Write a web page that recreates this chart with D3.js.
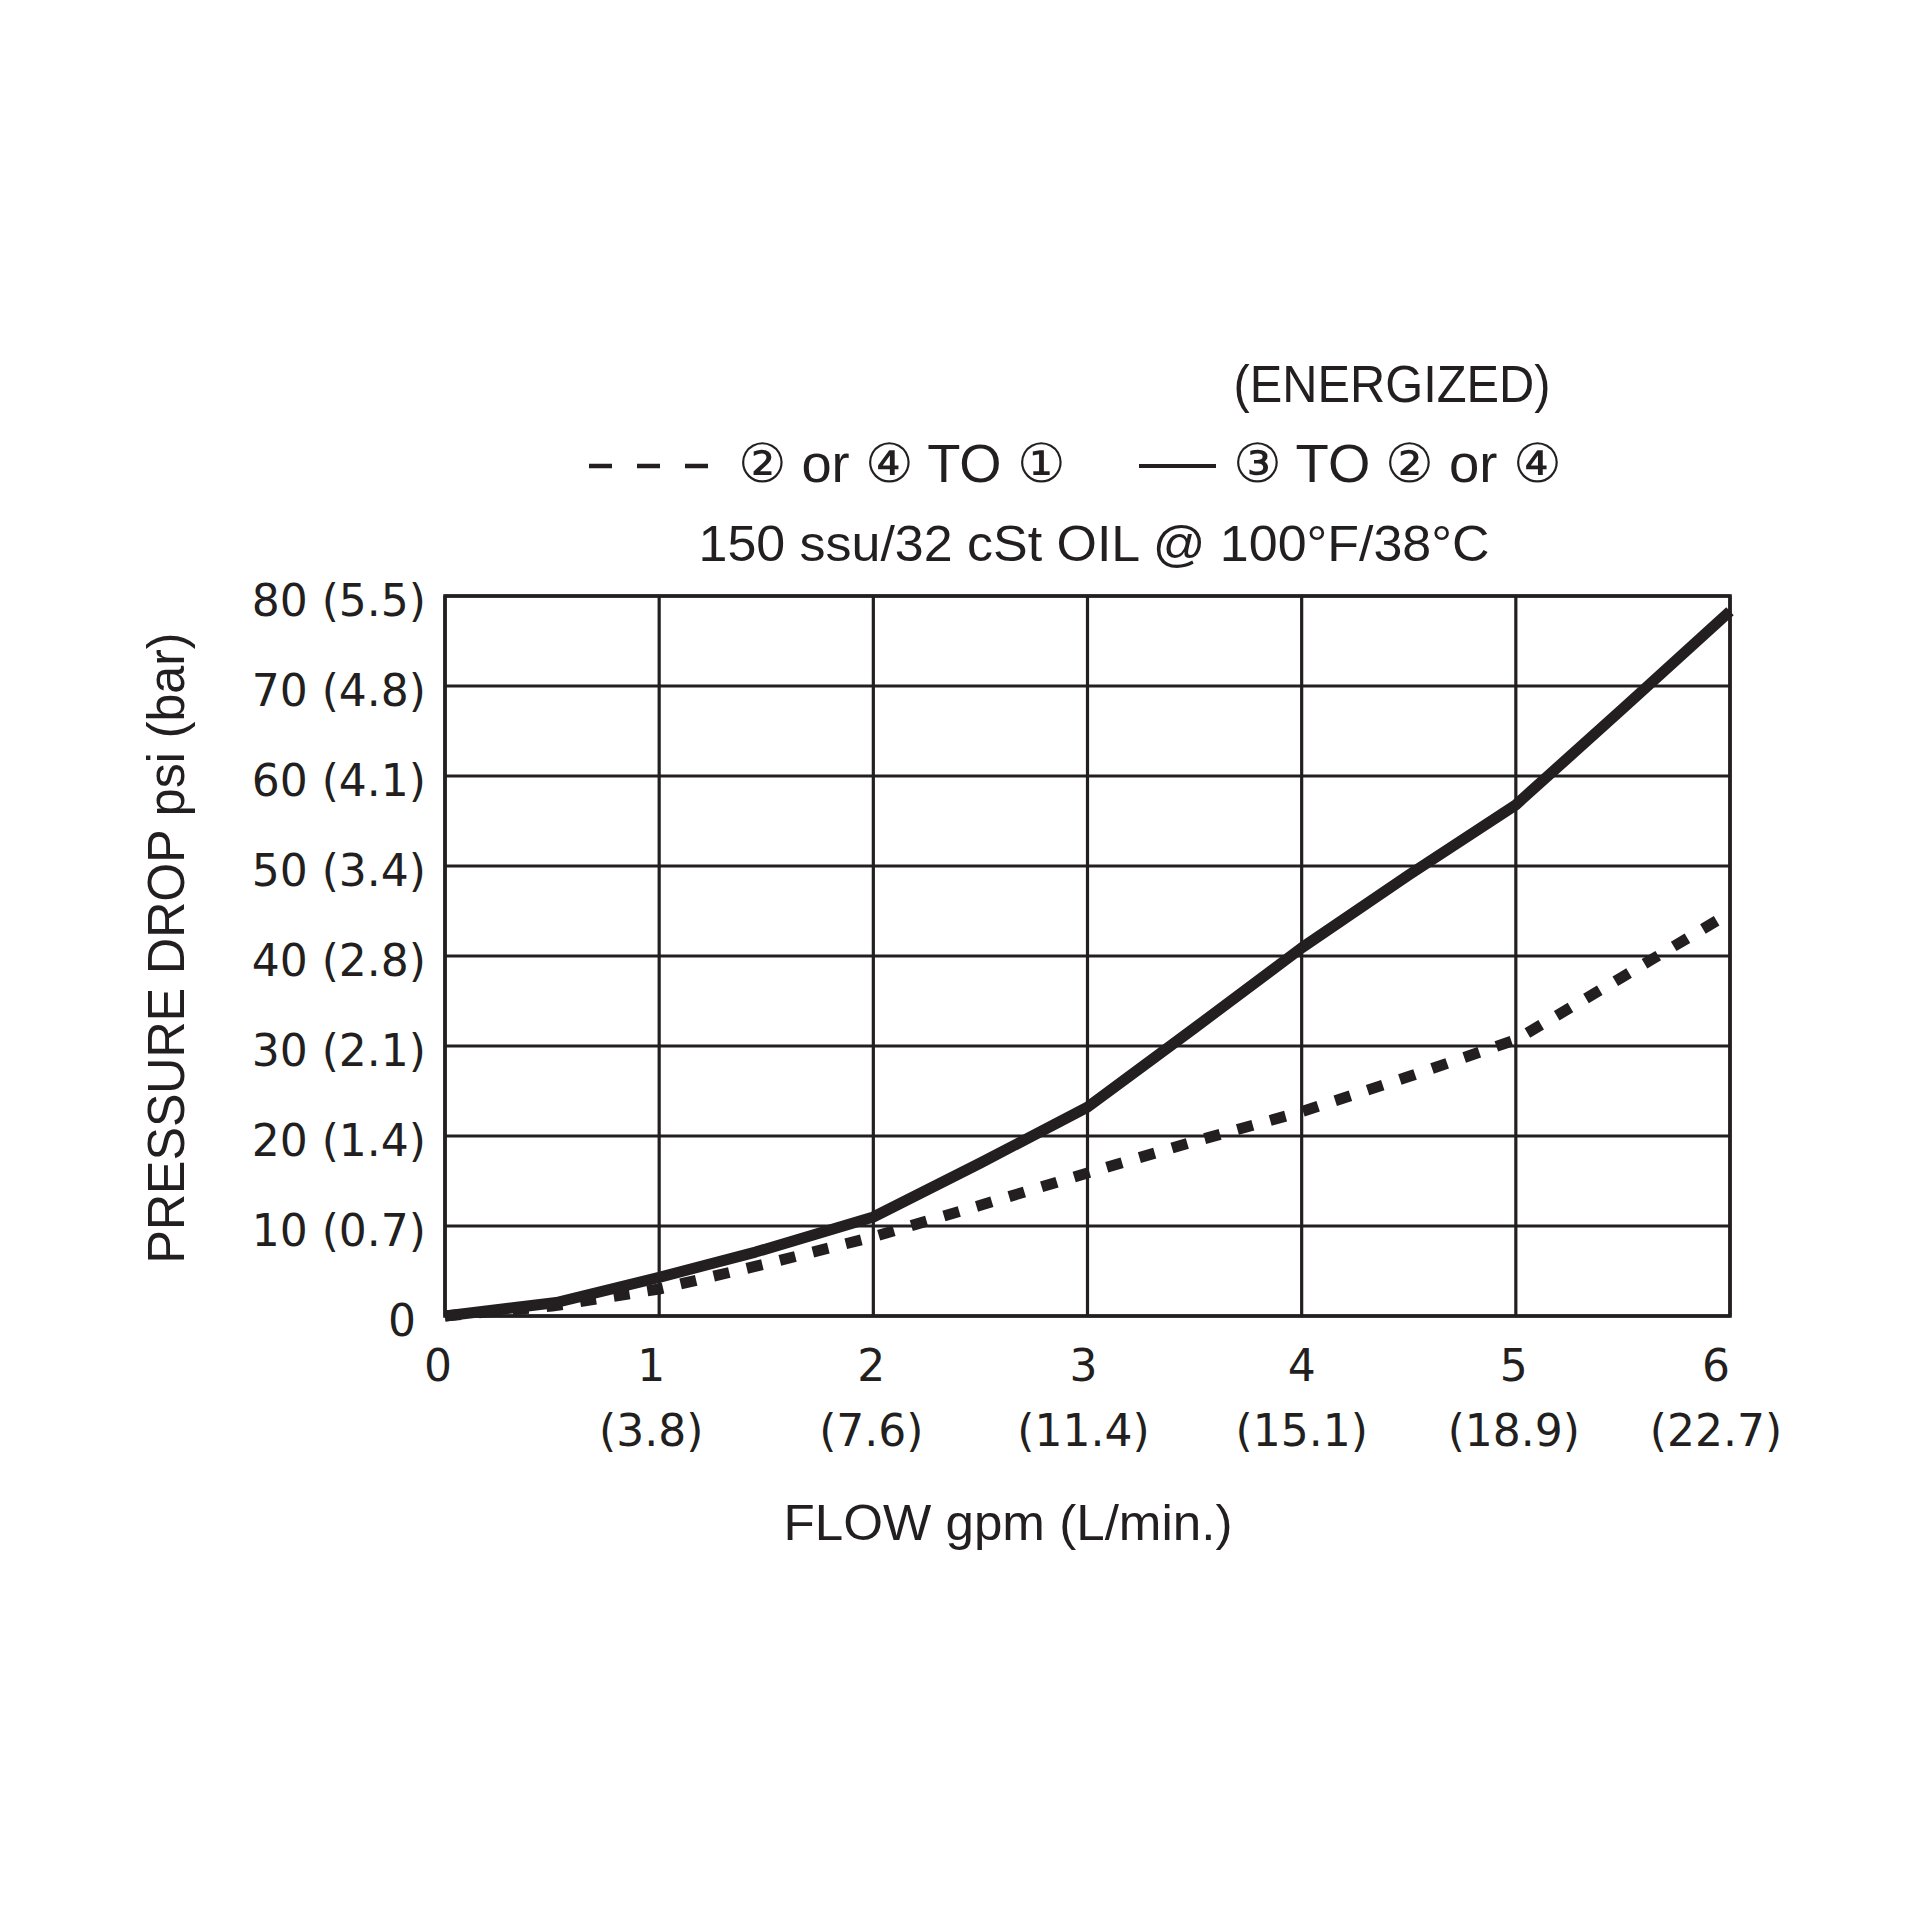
<!DOCTYPE html>
<html>
<head>
<meta charset="utf-8">
<script src="https://cdn.jsdelivr.net/npm/d3@7"></script>
<style>
  html, body { margin: 0; padding: 0; background: #fff; }
  text { fill: #231f20; }
</style>
</head>
<body>
<div id="chart"></div>
<script>
// x axis: flow in gpm with L/min underneath
const flowTicks = [0, 1, 2, 3, 4, 5, 6];
const flowLmin = ["", "(3.8)", "(7.6)", "(11.4)", "(15.1)", "(18.9)", "(22.7)"];

// y axis: pressure drop in psi with bar in brackets
const psiTicks = [0, 10, 20, 30, 40, 50, 60, 70, 80];
const psiLabels = ["0", "10 (0.7)", "20 (1.4)", "30 (2.1)", "40 (2.8)", "50 (3.4)", "60 (4.1)", "70 (4.8)", "80 (5.5)"];

// solid curve: 3 TO 2 or 4 (energized)
const solidFlow = [0, 0.52, 1, 1.45, 2, 2.5, 3, 3.5, 4, 4.5, 5, 5.5, 6];
const solidPsi  = [0, 1.5, 4.3, 7.1, 11.0, 17.0, 23.2, 32.0, 40.9, 49.0, 56.8, 67.5, 78.3];

// dotted curve: 2 or 4 TO 1
const dashFlow = [0, 0.5, 1, 1.5, 2, 2.5, 3, 3.5, 4, 4.5, 5, 5.5, 6];
const dashPsi  = [0, 1.1, 3.0, 5.8, 8.8, 12.3, 15.9, 19.4, 22.7, 26.6, 30.7, 37.7, 44.8];

const width = 1920;
const height = 1920;
const ink = "#231f20";
const plot = { left: 445, right: 1730, top: 596, bottom: 1316 };
// small nudges so the tick labels sit where the print put them
const xLabelNudge = [-7, -8, -2, -4, 0, -2, -14];

const svg = d3.select("#chart")
  .append("svg")
  .attr("width", width)
  .attr("height", height);

const x = d3.scaleLinear().domain([0, 6]).range([plot.left, plot.right]);
const y = d3.scaleLinear().domain([0, 80]).range([plot.bottom, plot.top]);

// grid
const grid = svg.append("g");
grid.selectAll("line.v")
  .data(flowTicks)
  .enter()
  .append("line")
  .attr("x1", d => x(d)).attr("x2", d => x(d))
  .attr("y1", plot.top).attr("y2", plot.bottom)
  .attr("stroke", ink).attr("stroke-width", 3.2);

grid.selectAll("line.h")
  .data(psiTicks)
  .enter()
  .append("line")
  .attr("x1", plot.left).attr("x2", plot.right)
  .attr("y1", d => y(d)).attr("y2", d => y(d))
  .attr("stroke", ink).attr("stroke-width", 3.2);

grid.append("rect")
  .attr("x", plot.left).attr("y", plot.top)
  .attr("width", plot.right - plot.left)
  .attr("height", plot.bottom - plot.top)
  .attr("fill", "none")
  .attr("stroke", ink)
  .attr("stroke-width", 3.6);

// y tick labels
svg.append("g")
  .selectAll("text")
  .data(psiTicks)
  .enter()
  .append("text")
  .attr("x", 426)
  .attr("dx", (d, i) => i === 0 ? -10 : 0)
  .attr("y", d => y(d) + 20)
  .attr("text-anchor", "end")
  .style("font-family", "DejaVu Sans")
  .style("font-size", "44px")
  .text((d, i) => psiLabels[i]);

// x tick labels, two rows
const xl = svg.append("g");
xl.selectAll("text.gpm")
  .data(flowTicks)
  .enter()
  .append("text")
  .attr("x", d => x(d))
  .attr("dx", (d, i) => xLabelNudge[i])
  .attr("y", 1381)
  .attr("text-anchor", "middle")
  .style("font-family", "DejaVu Sans")
  .style("font-size", "44px")
  .text(d => d);

xl.selectAll("text.lmin")
  .data(flowTicks)
  .enter()
  .append("text")
  .attr("x", d => x(d))
  .attr("dx", (d, i) => xLabelNudge[i])
  .attr("y", 1446)
  .attr("text-anchor", "middle")
  .style("font-family", "DejaVu Sans")
  .style("font-size", "44px")
  .text((d, i) => flowLmin[i]);

// axis titles
svg.append("text")
  .attr("x", 1008)
  .attr("y", 1540)
  .attr("text-anchor", "middle")
  .attr("textLength", 449)
  .attr("lengthAdjust", "spacingAndGlyphs")
  .style("font-family", "Liberation Sans")
  .style("font-size", "50px")
  .text("FLOW gpm (L/min.)");

svg.append("text")
  .attr("transform", "translate(184, 948) rotate(-90)")
  .attr("text-anchor", "middle")
  .attr("textLength", 631)
  .attr("lengthAdjust", "spacingAndGlyphs")
  .style("font-family", "Liberation Sans")
  .style("font-size", "52px")
  .text("PRESSURE DROP psi (bar)");

// header
svg.append("text")
  .attr("x", 1392)
  .attr("y", 402)
  .attr("text-anchor", "middle")
  .attr("textLength", 317)
  .attr("lengthAdjust", "spacingAndGlyphs")
  .style("font-family", "Liberation Sans")
  .style("font-size", "52px")
  .text("(ENERGIZED)");

svg.append("text")
  .attr("x", 738)
  .attr("y", 482)
  .attr("textLength", 327)
  .attr("lengthAdjust", "spacingAndGlyphs")
  .style("font-family", "Liberation Sans")
  .style("font-size", "54px")
  .text("② or ④ TO ①");

svg.append("text")
  .attr("x", 1233)
  .attr("y", 482)
  .attr("textLength", 328)
  .attr("lengthAdjust", "spacingAndGlyphs")
  .style("font-family", "Liberation Sans")
  .style("font-size", "54px")
  .text("③ TO ② or ④");

svg.append("text")
  .attr("x", 1094)
  .attr("y", 561)
  .attr("text-anchor", "middle")
  .attr("textLength", 791)
  .attr("lengthAdjust", "spacingAndGlyphs")
  .style("font-family", "Liberation Sans")
  .style("font-size", "50px")
  .text("150 ssu/32 cSt OIL @ 100°F/38°C");

// legend samples
svg.append("line")
  .attr("x1", 589).attr("x2", 710)
  .attr("y1", 466).attr("y2", 466)
  .attr("stroke", ink).attr("stroke-width", 4.5)
  .attr("stroke-dasharray", "23,25");

svg.append("line")
  .attr("x1", 1139).attr("x2", 1216)
  .attr("y1", 466).attr("y2", 466)
  .attr("stroke", ink).attr("stroke-width", 4);

// curves
const line = d3.line()
  .x(d => x(d[0]))
  .y(d => y(d[1]));

svg.append("path")
  .datum(dashFlow.map((f, i) => [f, dashPsi[i]]))
  .attr("d", line)
  .attr("fill", "none")
  .attr("stroke", ink)
  .attr("stroke-width", 11)
  .attr("stroke-dasharray", "16,18");

svg.append("path")
  .datum(solidFlow.map((f, i) => [f, solidPsi[i]]))
  .attr("d", line)
  .attr("fill", "none")
  .attr("stroke", ink)
  .attr("stroke-width", 11)
  .attr("stroke-linejoin", "round");
</script>
</body>
</html>
